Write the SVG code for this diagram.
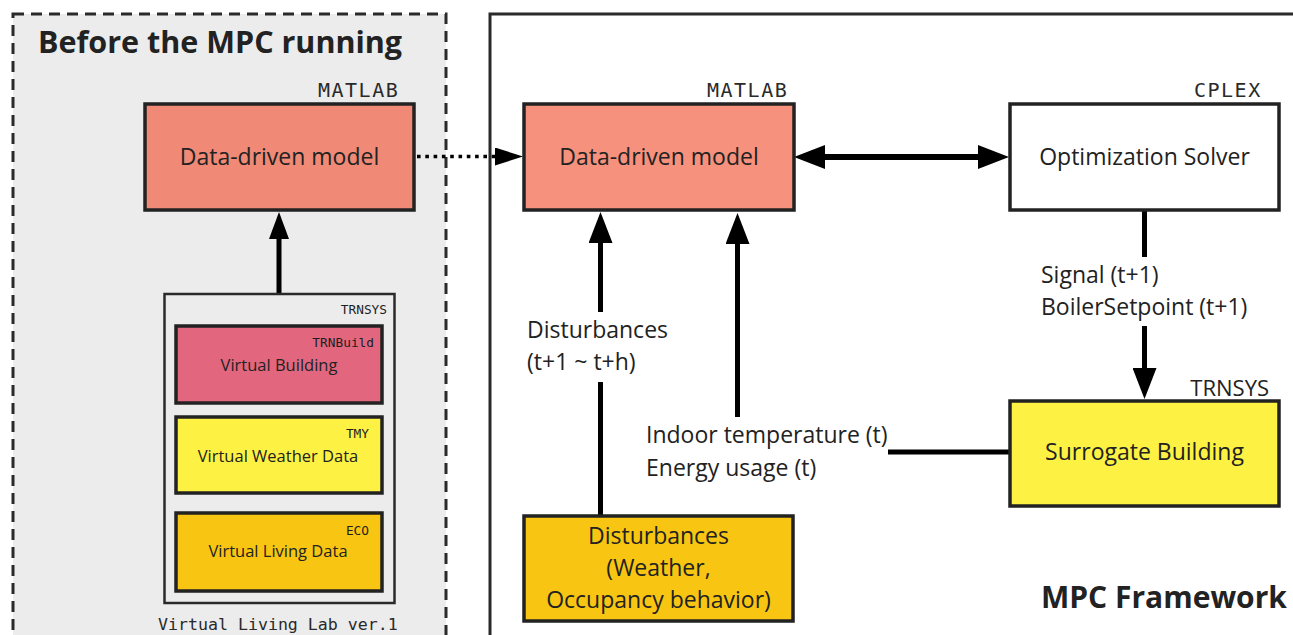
<svg xmlns="http://www.w3.org/2000/svg" width="1293" height="635" viewBox="0 0 1293 635">
<style>
.sans{font-family:"Open Sans","Noto Sans","DejaVu Sans",sans-serif;fill:#222;}
.mono{font-family:"DejaVu Sans Mono","Liberation Mono",monospace;fill:#2a2a2a;}
.box{stroke:#222;stroke-width:3.5;}
.inner{stroke:#222;stroke-width:3.5;}
.lbl{font-size:23px;}
.ctr{text-anchor:middle;}
.conn{stroke:#000;stroke-width:5;fill:none;}
.bold{font-weight:bold;font-size:30.5px;}
.tag{font-size:12.8px;text-anchor:end;fill:#1e1e1e;}
</style>
<defs>
<marker id="head" markerUnits="userSpaceOnUse" markerWidth="31" markerHeight="24" refX="23" refY="12" orient="auto-start-reverse">
<path d="M0,0 L31,12 L0,24 z" fill="#000"/>
</marker>
<marker id="headS" markerUnits="userSpaceOnUse" markerWidth="27" markerHeight="20" refX="19" refY="10" orient="auto">
<path d="M0,0 L27,10 L0,20 z" fill="#000"/>
</marker>
<marker id="headD" markerUnits="userSpaceOnUse" markerWidth="28" markerHeight="18" refX="0" refY="9" orient="auto">
<path d="M0,0 L28,9 L0,18 z" fill="#000"/>
</marker>
</defs>
<rect x="0" y="0" width="1293" height="635" fill="#ffffff"/>

<g id="panel-before">
<rect x="13" y="14" width="433" height="640" fill="#ececec" stroke="#2a2a2a" stroke-width="3" stroke-dasharray="11 7"/>
<text x="38" y="53" class="sans bold">Before the MPC running</text>
</g>
<g id="panel-mpc">
<rect x="490" y="14" width="820" height="640" fill="#ffffff" stroke="#2a2a2a" stroke-width="3"/>
<text x="1041" y="608" class="sans bold" style="font-size:30px">MPC Framework</text>
</g>

<g id="connectors">
<line x1="279" y1="294" x2="279" y2="220" class="conn" marker-end="url(#headS)"/>
<line x1="417" y1="156.5" x2="495" y2="156.5" stroke="#000" stroke-width="3.6" stroke-dasharray="3.6 4.7" marker-end="url(#headD)"/>
<line x1="802" y1="157" x2="1001" y2="157" stroke="#000" stroke-width="6" marker-start="url(#head)" marker-end="url(#head)"/>
<line x1="600.5" y1="516" x2="600.5" y2="382" class="conn"/>
<line x1="600.5" y1="312" x2="600.5" y2="220" class="conn" marker-end="url(#head)"/>
<line x1="737.5" y1="417" x2="737.5" y2="221" class="conn" marker-end="url(#head)"/>
<line x1="888" y1="452" x2="1010" y2="452" class="conn"/>
<line x1="1144.5" y1="210" x2="1144.5" y2="257" class="conn"/>
<line x1="1144.5" y1="326" x2="1144.5" y2="391" class="conn" marker-end="url(#head)"/>
<text x="527" y="338" class="sans lbl">Disturbances</text>
<text x="527" y="370" class="sans lbl">(t+1 ~ t+h)</text>
<text x="646" y="443" class="sans lbl">Indoor temperature (t)</text>
<text x="646" y="476" class="sans lbl">Energy usage (t)</text>
<text x="1041" y="283" class="sans lbl">Signal (t+1)</text>
<text x="1041" y="315" class="sans lbl">BoilerSetpoint (t+1)</text>
</g>

<g id="node-ddm-before">
<text x="318" y="97" class="mono" font-size="20" letter-spacing="1.5">MATLAB</text>
<rect x="145" y="104" width="269" height="106" fill="#f08a76" class="box"/>
<text x="279.5" y="165" class="sans lbl ctr">Data-driven model</text>
</g>

<g id="node-vll">
<rect x="164.5" y="294" width="230" height="309" fill="#ececec" stroke="#2a2a2a" stroke-width="2.5"/>
<text x="387" y="314" class="mono tag">TRNSYS</text>
<text x="158" y="630" class="mono" font-size="16.6">Virtual Living Lab ver.1</text>
</g>
<g id="node-vbuilding">
<rect x="176" y="326" width="206" height="77" fill="#e2677e" class="inner"/>
<text x="374" y="347" class="mono tag">TRNBuild</text>
<text x="279" y="371" class="sans ctr" font-size="16.5">Virtual Building</text>
</g>
<g id="node-vweather">
<rect x="176" y="417" width="206" height="76" fill="#fdf243" class="inner"/>
<text x="369" y="438" class="mono tag">TMY</text>
<text x="278" y="462" class="sans ctr" font-size="16.5">Virtual Weather Data</text>
</g>
<g id="node-vliving">
<rect x="176" y="513" width="206" height="78" fill="#f8c612" class="inner"/>
<text x="369" y="535" class="mono tag">ECO</text>
<text x="278" y="557" class="sans ctr" font-size="16.5">Virtual Living Data</text>
</g>

<g id="node-ddm">
<text x="707" y="97" class="mono" font-size="20" letter-spacing="1.5">MATLAB</text>
<rect x="524" y="104" width="270" height="106" fill="#f6917d" class="box"/>
<text x="659" y="165" class="sans lbl ctr">Data-driven model</text>
</g>
<g id="node-solver">
<text x="1194" y="97" class="mono" font-size="20" letter-spacing="1.5">CPLEX</text>
<rect x="1010" y="104" width="269" height="106" fill="#ffffff" class="box"/>
<text x="1144.5" y="165" class="sans lbl ctr">Optimization Solver</text>
</g>
<g id="node-surrogate">
<text x="1269" y="396" class="sans" font-size="22" text-anchor="end">TRNSYS</text>
<rect x="1010" y="401" width="269" height="105" fill="#fdf243" class="box"/>
<text x="1144.5" y="460" class="sans lbl ctr">Surrogate Building</text>
</g>
<g id="node-disturbances">
<rect x="524" y="516" width="269" height="105" fill="#f8c612" class="box"/>
<text x="658.5" y="544" class="sans lbl ctr">Disturbances</text>
<text x="658.5" y="576" class="sans lbl ctr">(Weather,</text>
<text x="658.5" y="608" class="sans lbl ctr">Occupancy behavior)</text>
</g>
</svg>
